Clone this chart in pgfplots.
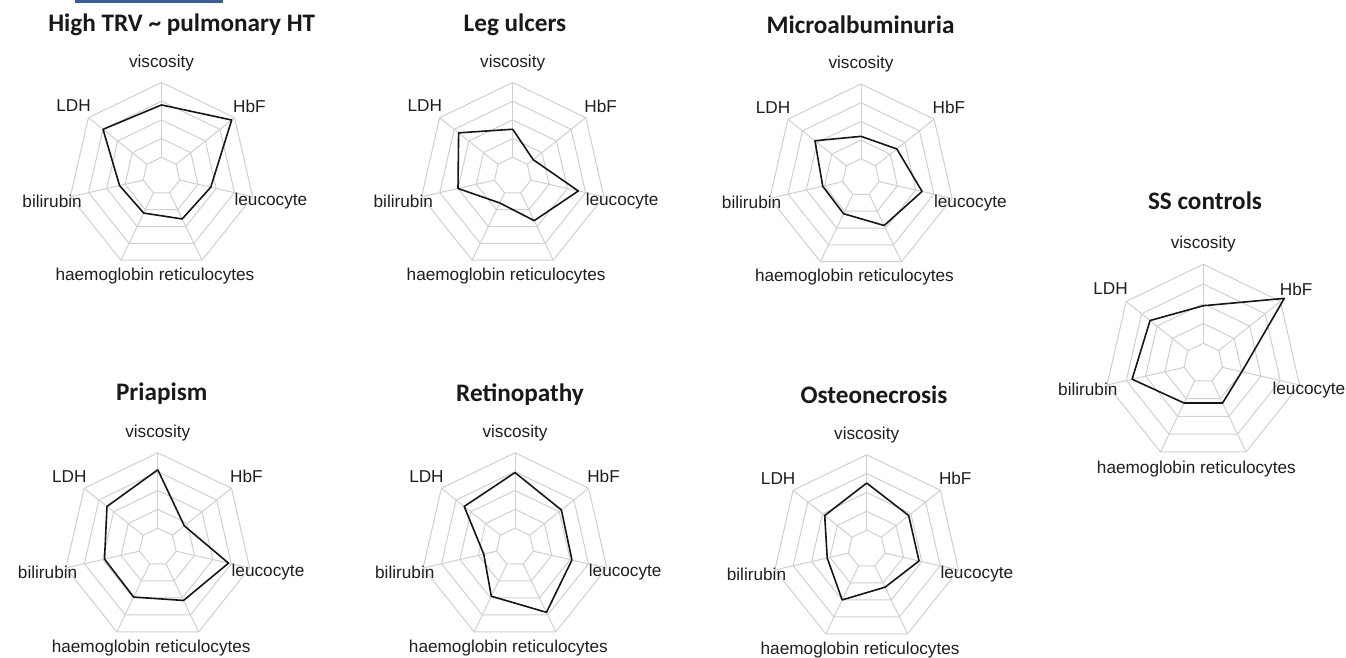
\documentclass[border=0pt]{standalone}
\usepackage{pgfplots}
\pgfplotsset{compat=1.18}
\usepackage{fontspec}
\setmainfont{Liberation Sans}
\newfontfamily\titlefont{Carlito}

\definecolor{gridc}{RGB}{208,208,208}
\definecolor{datac}{RGB}{22,22,22}
\definecolor{barblue}{RGB}{59,94,150}

\pgfplotsset{
  radar/.style={hide axis, anchor=center, x=#1pt, y=#1pt,
    xmin=-1.35, xmax=1.35, ymin=-1.35, ymax=1.35, clip=false},
  gridline/.style={data cs=polar, draw=gridc, line width=0.5pt, line join=miter},
  dataline/.style={data cs=polar, draw=datac, line width=0.8pt, line join=round},
}
\tikzset{
  lab/.style={font=\fontsize{8.6}{10}\selectfont, text=black!88, inner sep=0pt},
  ttl/.style={font=\titlefont\bfseries\fontsize{12.6}{14}\selectfont, text=black!90, inner sep=0pt},
}

\newcommand{\ring}[1]{\addplot[gridline] coordinates {(90,#1) (38.5714,#1) (-12.8571,#1) (-64.2857,#1) (-115.7143,#1) (-167.1429,#1) (141.4286,#1) (90,#1)};}
\newcommand{\spoke}[1]{\addplot[gridline] coordinates {(#1,0.2) (#1,1)};}
\newcommand{\radargrid}{%
  \ring{0.2}\ring{0.4}\ring{0.6}\ring{0.8}\ring{1}%
  \spoke{90}\spoke{38.5714}\spoke{-12.8571}\spoke{-64.2857}\spoke{-115.7143}\spoke{-167.1429}\spoke{141.4286}%
}
\newcommand{\radarlabels}[1][1.17]{%
  \node[lab] at (axis cs:0,1.21) {viscosity};
  \node[lab] at (axis cs:0.94,0.75) {HbF};
  \node[lab] at (axis cs:#1,-0.27) {leucocyte};
  \node[lab] at (axis cs:-0.07,-1.07) {haemoglobin reticulocytes};
  \node[lab] at (axis cs:-1.17,-0.27) {bilirubin};
  \node[lab] at (axis cs:-0.94,0.75) {LDH};
}
% data: radius (0.2 = centre ring, 1 = outer ring), order:
% viscosity, HbF, leucocyte, reticulocytes, haemoglobin, bilirubin, LDH
\newcommand{\radardata}[7]{\addplot[dataline] coordinates {(90,#1) (38.5714,#2) (-12.8571,#3) (-64.2857,#4) (-115.7143,#5) (-167.1429,#6) (141.4286,#7) (90,#1)};}

\begin{document}
\begin{tikzpicture}
\fill[white] (0,0) rectangle (673pt,329pt);
\path[use as bounding box] (0,0) rectangle (673pt,329pt);
\fill[barblue] (37.5pt,327.3pt) rectangle (111.4pt,329pt);

% High TRV ~ pulmonary HT
\begin{axis}[radar=46.75, at={(80.75pt,241pt)}]
\radargrid
\radardata{0.76}{0.96}{0.54}{0.51}{0.44}{0.46}{0.80}
\radarlabels
\end{axis}
\node[ttl] at (90.85pt,316.75pt) {High TRV \~{} pulmonary HT};

% Leg ulcers
\begin{axis}[radar=46.75, at={(256.35pt,241pt)}]
\radargrid
\radardata{0.50}{0.28}{0.72}{0.53}{0.32}{0.60}{0.74}
\radarlabels
\end{axis}
\node[ttl] at (257.5pt,316.75pt) {Leg ulcers};

% Microalbuminuria
\begin{axis}[radar=46.75, at={(430.5pt,240.25pt)}]
\radargrid
\radardata{0.44}{0.49}{0.67}{0.57}{0.43}{0.42}{0.63}
\radarlabels
\end{axis}
\node[ttl] at (430.25pt,316.5pt) {Microalbuminuria};

% SS controls
\begin{axis}[radar=49.35, at={(601.65pt,147.5pt)}]
\radargrid
\radardata{0.58}{1.05}{0.40}{0.45}{0.45}{0.74}{0.69}
\radarlabels[1.07]
\end{axis}
\node[ttl] at (602.5pt,228.65pt) {SS controls};

% Priapism
\begin{axis}[radar=47.1, at={(78.9pt,55.5pt)}]
\radargrid
\radardata{0.82}{0.36}{0.77}{0.63}{0.59}{0.58}{0.69}
\radarlabels
\end{axis}
\node[ttl] at (80.85pt,132.35pt) {Priapism};

% Retinopathy
\begin{axis}[radar=47.1, at={(257.5pt,55.5pt)}]
\radargrid
\radardata{0.79}{0.63}{0.62}{0.77}{0.58}{0.34}{0.69}
\radarlabels
\end{axis}
\node[ttl] at (260pt,131.5pt) {Retinopathy};

% Osteonecrosis
\begin{axis}[radar=47.1, at={(433.35pt,54.5pt)}]
\radargrid
\radardata{0.70}{0.57}{0.57}{0.45}{0.60}{0.43}{0.57}
\radarlabels
\end{axis}
\node[ttl] at (437pt,131.5pt) {Osteonecrosis};
\end{tikzpicture}
\end{document}
